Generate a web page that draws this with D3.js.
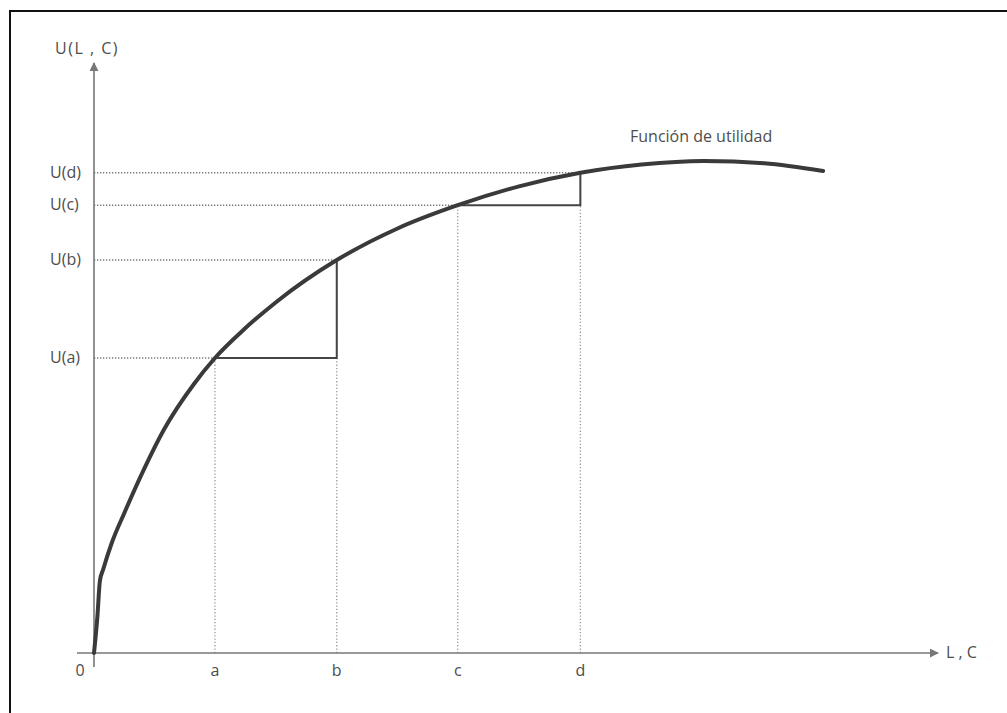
<!DOCTYPE html>
<html><head><meta charset="utf-8">
<script src="https://cdn.jsdelivr.net/npm/d3@7"></script>
<style>body{margin:0;background:#fff}svg{display:block}text{font-family:"Open Sans",sans-serif;fill:#4d4d4d}</style>
</head><body>
<script>
// Utility curve points (abstract units)
const curveX = [0,0.4,0.7,1.1,2.1,3.6,6.0,8.3,11.9,14.4,17.9,21.7,28.9,36.2,43.3,50.6,57.9,65.2,72.6,79.8,86.8];
const curveY = [0,6.1,12.2,14.2,18.6,23.7,31.3,37.8,45.6,50.0,54.9,59.5,66.6,72.0,75.9,79.1,81.4,82.8,83.4,83.0,81.7];
// Marked points
const markLabels = ["a","b","c","d"];
const markX = [14.4,28.9,43.3,57.9];
const markU = [50.0,66.6,75.9,81.4];
const uLabels = ["U(a)","U(b)","U(c)","U(d)"];
const originLabel = "0";
const xAxisTitle = "L , C";
const yAxisTitle = "U(L , C)";
const curveTitle = "Función de utilidad";

const W = 1007, H = 713;
const svg = d3.select("body").append("svg").attr("width", W).attr("height", H);

const x = d3.scaleLinear().domain([0,100]).range([94,934]);
const y = d3.scaleLinear().domain([0,100]).range([653,63]);

// frame
svg.append("rect").attr("x",10).attr("y",11).attr("width",1020).attr("height",740)
  .attr("fill","none").attr("stroke","#111").attr("stroke-width",2);

// dotted guides
markX.forEach((mx,i)=>{
  svg.append("line").attr("x1",x(0)).attr("x2",x(mx)).attr("y1",y(markU[i])).attr("y2",y(markU[i]))
    .attr("stroke","#777").attr("stroke-width",1.5).attr("stroke-dasharray","1.3,1.7");
  svg.append("line").attr("x1",x(mx)).attr("x2",x(mx)).attr("y1",y(0)).attr("y2",y(markU[i]))
    .attr("stroke","#999").attr("stroke-width",1.3).attr("stroke-dasharray","1.3,2");
});

// solid step lines a->b and c->d
[[0,1],[2,3]].forEach(([i,j])=>{
  svg.append("path")
    .attr("d", d3.line()([[x(markX[i]),y(markU[i])],[x(markX[j]),y(markU[i])],[x(markX[j]),y(markU[j])]]))
    .attr("fill","none").attr("stroke","#444").attr("stroke-width",2);
});

// axes
const defs = svg.append("defs");
defs.append("marker").attr("id","arr").attr("viewBox","0 0 10 10").attr("refX",9).attr("refY",5)
  .attr("markerWidth",9).attr("markerHeight",9).attr("markerUnits","userSpaceOnUse").attr("orient","auto")
  .append("path").attr("d","M0,0L10,5L0,10z").attr("fill","#777");
svg.append("line").attr("x1",x(0)).attr("x2",x(0)).attr("y1",y(0)+14).attr("y2",y(100))
  .attr("stroke","#777").attr("stroke-width",1.6).attr("marker-end","url(#arr)");
svg.append("line").attr("x1",x(0)-17).attr("x2",x(100)+4).attr("y1",y(0)).attr("y2",y(0))
  .attr("stroke","#777").attr("stroke-width",1.6).attr("marker-end","url(#arr)");

// utility curve
const pts = curveX.map((v,i)=>[x(v),y(curveY[i])]);
svg.append("path").attr("d", d3.line().curve(d3.curveMonotoneX)(pts))
  .attr("fill","none").attr("stroke","#3a3a3a").attr("stroke-width",4).attr("stroke-linecap","round");

// labels
const fs = 16;
markX.forEach((mx,i)=>{
  svg.append("text").attr("x",x(mx)).attr("y",y(0)+23).attr("text-anchor","middle")
    .attr("font-size",fs).text(markLabels[i]);
  svg.append("text").attr("x",50).attr("y",y(markU[i])+5).attr("font-size",fs).text(uLabels[i]);
});
svg.append("text").attr("x",80).attr("y",y(0)+23).attr("text-anchor","middle").attr("font-size",fs).text(originLabel);
svg.append("text").attr("x",x(100)+12).attr("y",y(0)+5).attr("font-size",fs).text(xAxisTitle);
svg.append("text").attr("x",55).attr("y",54).attr("font-size",fs).attr("letter-spacing",1.5).text(yAxisTitle);
svg.append("text").attr("x",630).attr("y",142).attr("font-size",fs).text(curveTitle);
</script>
</body></html>
